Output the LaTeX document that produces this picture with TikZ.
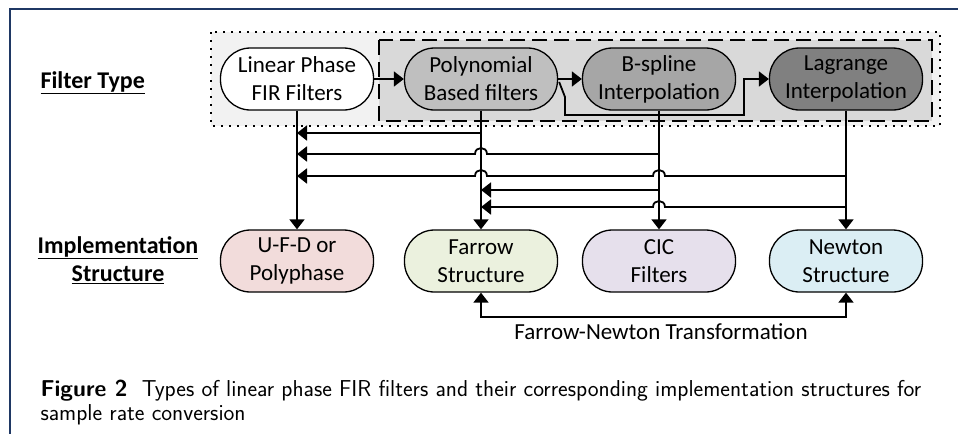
\documentclass[tikz,border=0pt]{standalone}
\usepackage{fontspec}
\setmainfont{Carlito}
\usetikzlibrary{arrows.meta,calc}
\definecolor{navyline}{RGB}{31,56,100}
\definecolor{outerfill}{HTML}{F2F2F2}
\definecolor{innerfill}{HTML}{D9D9D9}
\definecolor{polyfill}{HTML}{BFBFBF}
\definecolor{bspfill}{HTML}{A6A6A6}
\definecolor{lagfill}{HTML}{808080}
\definecolor{ufdfill}{HTML}{F2DCDB}
\definecolor{farfill}{HTML}{EBF1DE}
\definecolor{cicfill}{HTML}{E6E0EC}
\definecolor{newfill}{HTML}{DBEEF4}
\begin{document}
\begin{tikzpicture}[x=1pt,y=-1pt,
  box/.style={draw=black, line width=1.3pt, rounded corners=30pt,
    minimum width=153pt, minimum height=62pt, inner sep=0pt,
    align=center, font=\fontsize{23}{28}\selectfont},
  wire/.style={line width=1.8pt},
  arr/.style={wire, -{Triangle[length=10pt,width=15pt]}},
  dotbox/.style={line width=2pt, dash pattern=on 2pt off 6pt, fill=outerfill},
  dashbox/.style={line width=2.2pt, dash pattern=on 15pt off 7pt, fill=innerfill},
  rowlabel/.style={font=\bfseries\fontsize{24}{28}\selectfont, align=center},
  captext/.style={anchor=base west, font=\sffamily\fontsize{23}{28}\selectfont},
]
\useasboundingbox (0,0) rectangle (958,434);
% page frame
\draw[navyline, line width=1.2pt] (958,9) -- (10,9) -- (10,434);

% group boxes
\draw[dotbox] (211,32) rectangle (940,126);
\draw[dashbox] (379,40) rectangle (932,121);

% filter type nodes
\node[box, fill=white]    (lin)  at (297,79) {Linear Phase\\FIR Filters};
\node[box, fill=polyfill] (poly) at (481,79) {Polynomial\\Based filters};
\node[box, fill=bspfill]  (bsp)  at (659,79) {B-spline\\Interpolation};
\node[box, fill=lagfill]  (lag)  at (846,79) {Lagrange\\Interpolation};

% implementation nodes
\node[box, fill=ufdfill] (ufd) at (297,261) {U-F-D or\\Polyphase};
\node[box, fill=farfill] (far) at (481,261) {Farrow\\Structure};
\node[box, fill=cicfill] (cic) at (659,261) {CIC\\Filters};
\node[box, fill=newfill] (new) at (846,261) {Newton\\Structure};

% row labels
\node[rowlabel, anchor=base west] (ft) at (37,88) {\underline{Filter Type}};
\node[rowlabel] (is) at (118,260) {\underline{Implementation}\\\underline{Structure}};

% top arrows
\draw[arr] (lin.east) -- (poly.west);
\draw[arr] (poly.east) -- (bsp.west);
\coordinate (pstart) at ($(poly.east)+(1,3)$);
\draw[arr] (pstart) -- (565,97) |- (744,115) |- (lag.west);

% row coordinates
\coordinate (r1) at (0,133);
\coordinate (r2) at (0,154);
\coordinate (r3) at (0,176);
\coordinate (r4) at (0,190);
\coordinate (r5) at (0,207);
\coordinate (rb) at (0,317);

% verticals
\draw[arr] (lin.south) -- (ufd.north);
\draw[arr] (poly.south) -- (far.north);
\draw[arr] (bsp.south) -- (cic.north);
\draw[arr] (lag.south) -- (new.north);

% horizontals with jumps
\draw[arr] (poly.south |- r1) -- (lin.south |- r1);
\draw[arr] (bsp.south |- r2) -- (487,154) .. controls (487,146) and (475,146) .. (475,154) -- (lin.south |- r2);
\draw[arr] (lag.south |- r3) -- (665,176) .. controls (665,168) and (653,168) .. (653,176)
  -- (487,176) .. controls (487,168) and (475,168) .. (475,176) -- (lin.south |- r3);
\draw[arr] (bsp.south |- r4) -- (poly.south |- r4);
\draw[arr] (lag.south |- r5) -- (665,207) .. controls (665,199) and (653,199) .. (653,207) -- (poly.south |- r5);

% Farrow-Newton transformation
\draw[wire, {Triangle[length=10pt,width=15pt]}-{Triangle[length=10pt,width=15pt]}]
  (far.south) -- (far.south |- rb) -- (new.south |- rb) -- (new.south);
\node[font=\fontsize{23}{28}\selectfont] (fnt) at (661,332) {Farrow-Newton Transformation};

% caption
\node[captext] (cap1) at (37,396)
  {\textbf{Figure 2}\ \ Types of linear phase FIR filters and their corresponding implementation structures for};
\node[captext] (cap2) at (37,420) {sample rate conversion};
\end{tikzpicture}
\end{document}
